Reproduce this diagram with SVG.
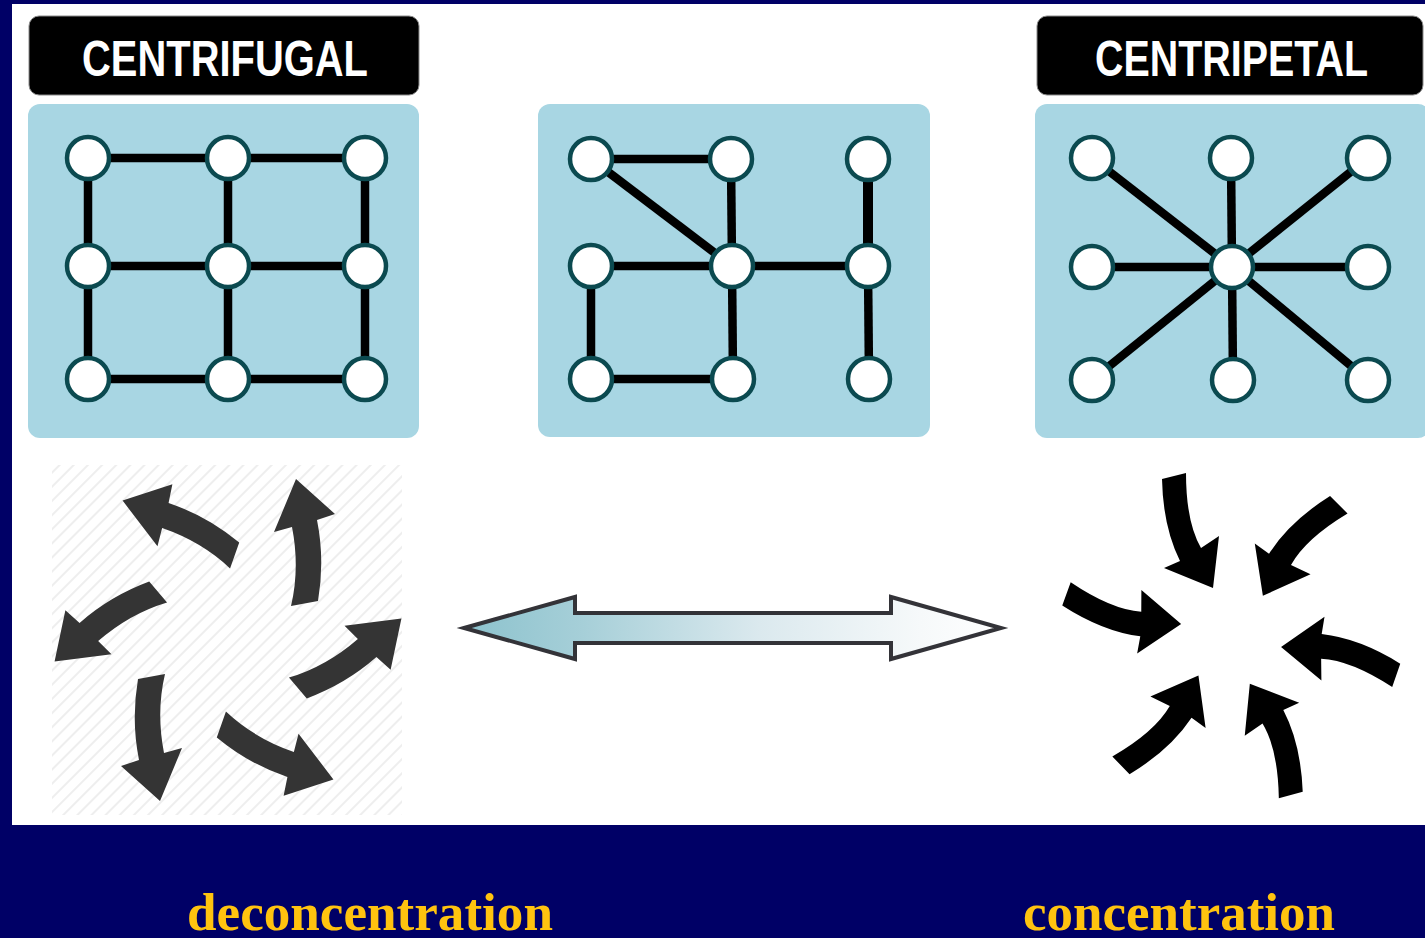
<svg xmlns="http://www.w3.org/2000/svg" xmlns:xlink="http://www.w3.org/1999/xlink" width="1425" height="938" viewBox="0 0 1425 938">
  <style>
    .label-box { fill: #000000; stroke: #8a8a8a; stroke-width: 1; }
    .label-text { font-family: "Liberation Sans", Arial, sans-serif; font-weight: bold; font-size: 50px; fill: #ffffff; }
    .panel { fill: #a8d6e3; }
    .edge { stroke: #000000; stroke-width: 8.5; stroke-linecap: butt; fill: none; }
    .node { fill: #ffffff; stroke: #0b4a50; stroke-width: 4.5; }
    .caption { font-family: "Liberation Serif", "Times New Roman", serif; font-weight: bold; font-size: 52px; fill: #ffc30f; }
    .out-arrow { fill: #343434; }
    .in-arrow { fill: #000000; }
  </style>
  <defs>
    <pattern id="hatch" patternUnits="userSpaceOnUse" width="10" height="10" patternTransform="rotate(45)">
      <line x1="0" y1="0" x2="0" y2="10" stroke="#eeeeee" stroke-width="4"/>
    </pattern>
    <linearGradient id="shaftFill" gradientUnits="userSpaceOnUse" x1="464" y1="0" x2="1001" y2="0">
      <stop offset="0" stop-color="#8cc2cd"/>
      <stop offset="0.22" stop-color="#a6cfd8"/>
      <stop offset="0.55" stop-color="#dbe9ee"/>
      <stop offset="0.85" stop-color="#f6f9fa"/>
      <stop offset="1" stop-color="#ffffff"/>
    </linearGradient>
    <!-- one outward curved arrow, repeated round the hub -->
    <path id="outArrow" d="M 291,606 L 318,601 Q 325,560 317,520 L 335,514 L 296,479 L 274,532 L 292,527 Q 300,568 291,606 Z"/>
    <!-- one inward curved arrow, repeated round the hub -->
    <path id="inArrow" d="M 1162,479 L 1186,473 Q 1186,522 1201,548 L 1219,536 L 1213,588 L 1164,568 L 1180,561 Q 1163,527 1162,479 Z"/>
  </defs>

  <!-- frame -->
  <rect x="0" y="0" width="1425" height="938" fill="#000066"/>
  <rect x="12" y="4" width="1413" height="821" fill="#ffffff"/>

  <!-- titles -->
  <g id="label-centrifugal">
    <rect class="label-box" x="29" y="16" width="390" height="79" rx="10"/>
    <text class="label-text" x="82" y="76" textLength="286" lengthAdjust="spacingAndGlyphs">CENTRIFUGAL</text>
  </g>
  <g id="label-centripetal">
    <rect class="label-box" x="1037" y="16" width="386" height="79" rx="10"/>
    <text class="label-text" x="1095" y="76" textLength="273" lengthAdjust="spacingAndGlyphs">CENTRIPETAL</text>
  </g>

  <!-- grid network -->
  <g id="panel-grid">
    <rect class="panel" x="28" y="104" width="391" height="334" rx="12"/>
    <g class="edges">
      <line class="edge" x1="88" y1="158" x2="365" y2="158"/>
      <line class="edge" x1="88" y1="266" x2="365" y2="266"/>
      <line class="edge" x1="88" y1="379" x2="365" y2="379"/>
      <line class="edge" x1="88" y1="158" x2="88" y2="379"/>
      <line class="edge" x1="228" y1="158" x2="228" y2="379"/>
      <line class="edge" x1="365" y1="158" x2="365" y2="379"/>
    </g>
    <g class="nodes">
      <circle class="node" cx="88" cy="158" r="21"/>
      <circle class="node" cx="228" cy="158" r="21"/>
      <circle class="node" cx="365" cy="158" r="21"/>
      <circle class="node" cx="88" cy="266" r="21"/>
      <circle class="node" cx="228" cy="266" r="21"/>
      <circle class="node" cx="365" cy="266" r="21"/>
      <circle class="node" cx="88" cy="379" r="21"/>
      <circle class="node" cx="228" cy="379" r="21"/>
      <circle class="node" cx="365" cy="379" r="21"/>
    </g>
  </g>

  <!-- mixed network -->
  <g id="panel-mixed">
    <rect class="panel" x="538" y="104" width="392" height="333" rx="12"/>
    <g class="edges">
      <line class="edge" x1="591" y1="159" x2="731" y2="159"/>
      <line class="edge" x1="591" y1="159" x2="732" y2="266"/>
      <line class="edge" x1="731" y1="159" x2="732" y2="266"/>
      <line class="edge" x1="868" y1="159" x2="868" y2="266" style="stroke-width:10"/>
      <line class="edge" x1="591" y1="266" x2="868" y2="266"/>
      <line class="edge" x1="591" y1="266" x2="591" y2="379"/>
      <line class="edge" x1="732" y1="266" x2="733" y2="379"/>
      <line class="edge" x1="868" y1="266" x2="869" y2="379"/>
      <line class="edge" x1="591" y1="379" x2="733" y2="379"/>
    </g>
    <g class="nodes">
      <circle class="node" cx="591" cy="159" r="21"/>
      <circle class="node" cx="731" cy="159" r="21"/>
      <circle class="node" cx="868" cy="159" r="21"/>
      <circle class="node" cx="591" cy="266" r="21"/>
      <circle class="node" cx="732" cy="266" r="21"/>
      <circle class="node" cx="868" cy="266" r="21"/>
      <circle class="node" cx="591" cy="379" r="21"/>
      <circle class="node" cx="733" cy="379" r="21"/>
      <circle class="node" cx="869" cy="379" r="21"/>
    </g>
  </g>

  <!-- star network -->
  <g id="panel-star">
    <rect class="panel" x="1035" y="104" width="395" height="334" rx="12"/>
    <g class="edges">
      <line class="edge" x1="1232" y1="267" x2="1092" y2="158"/>
      <line class="edge" x1="1232" y1="267" x2="1231" y2="158"/>
      <line class="edge" x1="1232" y1="267" x2="1368" y2="158"/>
      <line class="edge" x1="1232" y1="267" x2="1092" y2="267"/>
      <line class="edge" x1="1232" y1="267" x2="1368" y2="267"/>
      <line class="edge" x1="1232" y1="267" x2="1092" y2="380"/>
      <line class="edge" x1="1232" y1="267" x2="1233" y2="380"/>
      <line class="edge" x1="1232" y1="267" x2="1368" y2="380"/>
    </g>
    <g class="nodes">
      <circle class="node" cx="1092" cy="158" r="21"/>
      <circle class="node" cx="1231" cy="158" r="21"/>
      <circle class="node" cx="1368" cy="158" r="21"/>
      <circle class="node" cx="1092" cy="267" r="21"/>
      <circle class="node" cx="1232" cy="267" r="21"/>
      <circle class="node" cx="1368" cy="267" r="21"/>
      <circle class="node" cx="1092" cy="380" r="21"/>
      <circle class="node" cx="1233" cy="380" r="21"/>
      <circle class="node" cx="1368" cy="380" r="21"/>
    </g>
  </g>

  <!-- outward swirl -->
  <g id="swirl-out">
    <rect x="52" y="465" width="350" height="350" fill="url(#hatch)"/>
    <g class="out-arrow">
      <use xlink:href="#outArrow" transform="rotate(-60 228 640)"/>
      <use xlink:href="#outArrow"/>
      <use xlink:href="#outArrow" transform="rotate(60 228 640)"/>
      <use xlink:href="#outArrow" transform="rotate(120 228 640)"/>
      <use xlink:href="#outArrow" transform="rotate(180 228 640)"/>
      <use xlink:href="#outArrow" transform="rotate(240 228 640)"/>
    </g>
  </g>

  <!-- inward swirl -->
  <g id="swirl-in" class="in-arrow">
    <use xlink:href="#inArrow"/>
    <use xlink:href="#inArrow" transform="rotate(59 1231 636)"/>
    <use xlink:href="#inArrow" transform="rotate(123 1231 636)"/>
    <use xlink:href="#inArrow" transform="rotate(179 1231 636)"/>
    <use xlink:href="#inArrow" transform="rotate(240 1231 636)"/>
    <use xlink:href="#inArrow" transform="rotate(304 1231 636)"/>
  </g>

  <!-- two-way arrow between the swirls -->
  <g id="connectors">
    <path d="M 464,628 L 575,597 L 575,613 L 891,613 L 891,597 L 1001,628 L 891,659 L 891,643 L 575,643 L 575,659 Z" fill="url(#shaftFill)" stroke="#333338" stroke-width="4" stroke-linejoin="miter"/>
  </g>

  <!-- captions -->
  <g id="caption-deconcentration">
    <text class="caption" x="187" y="930" textLength="366" lengthAdjust="spacingAndGlyphs">deconcentration</text>
  </g>
  <g id="caption-concentration">
    <text class="caption" x="1023" y="930" textLength="312" lengthAdjust="spacingAndGlyphs">concentration</text>
  </g>
</svg>
